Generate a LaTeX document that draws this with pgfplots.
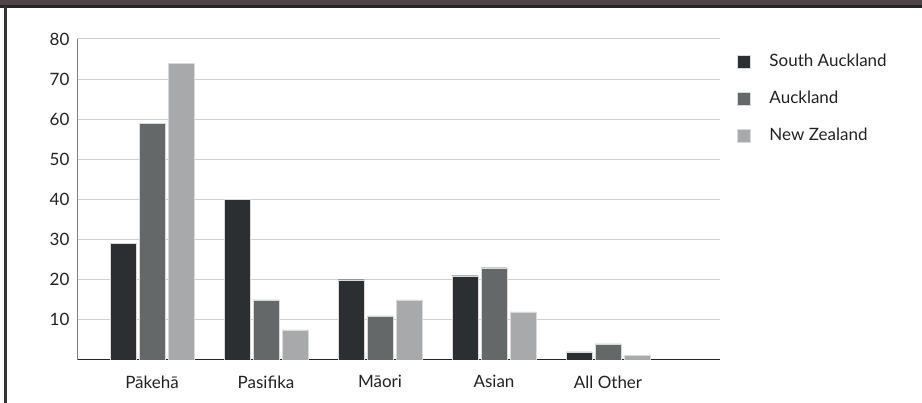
\documentclass[border=0pt]{standalone}
\usepackage{pgfplots}
\pgfplotsset{compat=1.18}
\usepackage{fontspec}
\setmainfont{Lato}
\definecolor{cA}{HTML}{2B2F31}
\definecolor{cB}{HTML}{646868}
\definecolor{cC}{HTML}{A8A9AA}
\definecolor{gridc}{HTML}{CFCFCF}
\definecolor{txt}{HTML}{222222}
\definecolor{hdr}{HTML}{4E4645}
\begin{document}
\begin{tikzpicture}[x=1pt,y=1pt]
\path[use as bounding box] (0,0) rectangle (922,403);
\fill[hdr] (0,397) rectangle (922,403);
\fill[black!85] (0,395) rectangle (922,397.5);
\fill[black!80] (3.5,0) rectangle (6.5,397);
\begin{axis}[
  at={(77pt,43pt)}, anchor=south west,
  scale only axis, width=643pt, height=321pt,
  ybar=3pt, bar width=26pt,
  xmin=-0.658, xmax=4.982, ymin=0, ymax=80,
  xtick={0,1,2,3,4},
  xticklabels={Pākehā,Pasifika,Māori,Asian,All Other},
  ytick={10,20,...,80},
  xmajorgrids=false,
  ymajorgrids=true, major y grid style={color=gridc, line width=1pt},
  major x grid style={draw=none},
  xtick style={draw=none}, ytick style={draw=none},
  major tick length=0pt,
  axis x line*=bottom, axis y line*=left,
  x axis line style={black!85, line width=1pt, -},
  y axis line style={black!50, line width=1pt, -},
  tick label style={font=\fontsize{17}{19}\selectfont, text=txt},
  /pgf/number format/assume math mode=true,
  yticklabel style={xshift=-4pt},
  xticklabel style={yshift=-12pt},
  legend style={at={(rel axis cs:1.0264,0.953)}, anchor=north west, draw=none, fill=none,
    inner sep=0pt, nodes={inner sep=0pt, anchor=west},
    font=\fontsize{17}{19}\selectfont, text=txt, row sep=23pt},
  legend cell align=left,
  legend image code/.code={\fill[#1] (0pt,-6.5pt) rectangle (13pt,6.5pt); \path (32pt,0pt);},
  every axis plot/.append style={draw=white!85!black, line width=0.3pt},
]
\addplot[fill=cA] coordinates {(0,29) (1,40) (2,20) (3,21) (4,2)};
\addplot[fill=cB] coordinates {(0,59) (1,15) (2,11) (3,23) (4,4)};
\addplot[fill=cC] coordinates {(0,74) (1,7.5) (2,15) (3,12) (4,1.2)};
\legend{South Auckland,Auckland,New Zealand}
\end{axis}
\end{tikzpicture}
\end{document}
